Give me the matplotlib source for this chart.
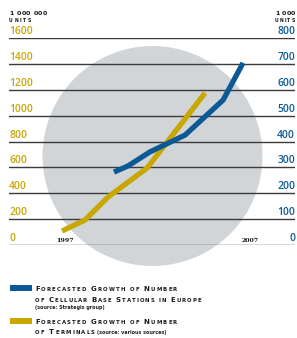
import matplotlib
matplotlib.use("Agg")
import matplotlib.pyplot as plt
from matplotlib.patches import Ellipse, Rectangle
from matplotlib.transforms import IdentityTransform

# ---- data ----
terminal_years = [1997.0, 1998.27, 1999.54, 2001.7, 2004.9]
terminal_values = [110, 195, 372, 596, 1174]          # million units (left scale)
station_years = [1999.87, 2000.65, 2001.86, 2003.8, 2005.9, 2007.0]
station_values = [282, 306, 360, 425, 560, 703]        # thousand units (right scale)
left_ticks = [0, 200, 400, 600, 800, 1000, 1200, 1400, 1600]
right_ticks = [0, 100, 200, 300, 400, 500, 600, 700, 800]
year_labels = ["1997", "2007"]
year_label_pos = [1997.15, 2007.4]

W, H = 297, 338
YELLOW = "#c8a700"
BLUE = "#0b5a96"
GRID = "#3a3a3a"
CIRCLE = "#d1d5d8"

fig = plt.figure(figsize=(W / 100, H / 100), dpi=100)
fig.patch.set_facecolor("white")

def fx(x):
    return x / W

def fy(y):
    return 1 - y / H

# axes spanning the grid area (pixels: x 9..295, y 37.7..245.3)
ax = fig.add_axes([fx(9), fy(245.3), (295 - 9) / W, (245.3 - 37.7) / H])
ax.set_facecolor("none")
ax.set_xlim(1994.07, 2009.87)
ax.set_ylim(0, 1600)
for s in ax.spines.values():
    s.set_visible(False)
ax.set_xticks([])
ax.set_yticks([])

ax2 = ax.twinx()
ax2.set_facecolor("none")
ax2.set_ylim(0, 800)
for s in ax2.spines.values():
    s.set_visible(False)
ax2.set_yticks([])
ax2.set_xticks([])

# background circle
circ = Ellipse((fx(152.5), fy(156)), 220 / W, 220 / H, transform=fig.transFigure,
               facecolor=CIRCLE, edgecolor="none", zorder=-5)
fig.add_artist(circ)

# gridlines
for v in left_ticks:
    ax.axhline(v, color=GRID, lw=1.0, zorder=1)

# left tick labels
for v in left_ticks:
    ax.annotate(str(v), xy=(0, v), xycoords=("axes fraction", "data"),
                xytext=(0, 4), textcoords="offset pixels", ha="left", va="baseline",
                fontsize=7.4, color=YELLOW, family="Open Sans", fontweight="semibold")
# right tick labels
for v in right_ticks:
    ax2.annotate(str(v), xy=(1, v), xycoords=("axes fraction", "data"),
                 xytext=(0, 4), textcoords="offset pixels", ha="right", va="baseline",
                 fontsize=7.4, color=BLUE, family="Open Sans", fontweight="semibold")

# data lines
ax.plot(terminal_years, terminal_values, color=YELLOW, lw=3.8, solid_capstyle="butt",
        solid_joinstyle="miter", zorder=3)
ax2.plot(station_years, station_values, color=BLUE, lw=3.8, solid_capstyle="butt",
         solid_joinstyle="miter", zorder=4)

# year labels
for lab, yr in zip(year_labels, year_label_pos):
    ax.annotate(lab, xy=(yr, 0), xycoords="data", xytext=(0, 3), textcoords="offset pixels",
                ha="center", va="baseline", fontsize=4.5, fontweight="bold",
                family="DejaVu Serif", color="#111111")

renderer = fig.canvas.get_renderer()


def tracked(x0, x1, ybase, text, big, small, color="#1a1a1a", weight="heavy",
            smallcaps=True, family="DejaVu Sans"):
    """Draw text char by char with tracking to span from x0 to x1 (pixels)."""
    items = []
    for ch in text:
        if ch == " ":
            items.append((None, None))
            continue
        if smallcaps:
            size = big if (ch.isupper() or ch.isdigit()) else small
            c = ch.upper()
        else:
            size = big
            c = ch
        t = fig.text(0, 0, c, fontsize=size, fontweight=weight, color=color,
                     family=family, transform=IdentityTransform(), ha="left", va="baseline")
        w = t.get_window_extent(renderer).width
        items.append((t, w))
    space_w = small * 100 / 72 * 0.45
    natural = sum(w if t is not None else space_w for t, w in items)
    n_gaps = len(items) - 1
    track = (x1 - x0 - natural) / n_gaps if n_gaps > 0 else 0
    x = x0
    for t, w in items:
        if t is None:
            x += space_w + track
            continue
        t.set_position((x, H - ybase))
        x += w + track


# header texts
tracked(9, 47, 15, "1 000 000", 4.5, 4.5)
tracked(9, 31, 22.5, "UNITS", 3.3, 3.3)
tracked(275, 295, 15, "1 000", 4.5, 4.5)
tracked(275, 295, 22.5, "UNITS", 3.3, 3.3)

# legend
fig.add_artist(Rectangle((fx(10), fy(291)), 22 / W, 6 / H, transform=fig.transFigure,
                         facecolor=BLUE, edgecolor="none"))
fig.add_artist(Rectangle((fx(10), fy(323.5)), 22 / W, 6 / H, transform=fig.transFigure,
                         facecolor=YELLOW, edgecolor="none"))

tracked(35, 177, 291, "Forecasted Growth of Number", 5.0, 3.9)
tracked(35, 201, 301.8, "of Cellular Base Stations in Europe", 5.0, 3.9)
fig.text(fx(35), fy(308.5), "(source: Strategis group)", fontsize=3.5, color="#222222",
         ha="left", va="baseline", fontweight="bold")
tracked(35, 177, 323.8, "Forecasted Growth of Number", 5.0, 3.9)
tracked(35, 95, 334.3, "of Terminals", 5.0, 3.9)
fig.text(fx(97), fy(334.3), "(source: various sources)", fontsize=3.5, color="#222222",
         ha="left", va="baseline", fontweight="bold")

fig.savefig("out.png", dpi=100)
